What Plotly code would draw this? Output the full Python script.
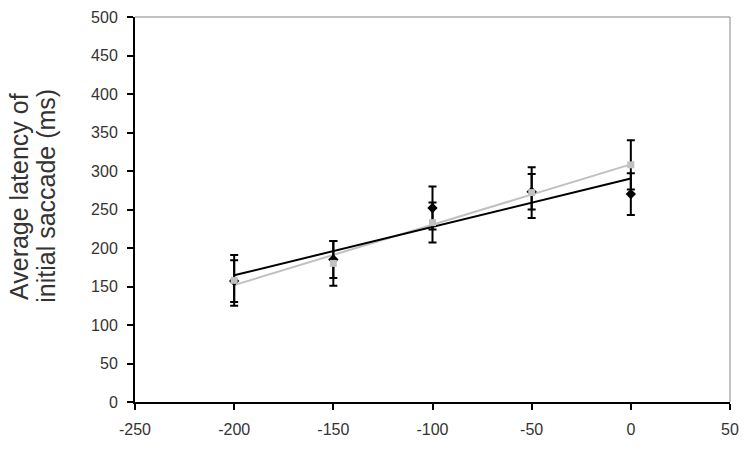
import numpy as np
import plotly.graph_objects as go

x_vals = [-200, -150, -100, -50, 0]
black_mean = [157, 185, 252, 273, 270]
black_err = [27, 24, 28, 23, 27]
gray_mean = [158, 180, 233, 272, 308]
gray_err = [33, 29, 26, 33, 32]

x_ticks = [-250, -200, -150, -100, -50, 0, 50]
x_tick_text = ["-250", "-200", "-150", "-100", "-50", "0", "50"]
y_ticks = [0, 50, 100, 150, 200, 250, 300, 350, 400, 450, 500]
y_tick_text = ["0", "50", "100", "150", "200", "250", "300", "350", "400", "450", "500"]

FONT = "Liberation Sans, Arial, sans-serif"

def trend(xs, ys):
    m, b = np.polyfit(xs, ys, 1)
    xe = [min(xs), max(xs)]
    return xe, [m * v + b for v in xe]

fig = go.Figure()

gx, gy = trend(x_vals, gray_mean)
bx, by = trend(x_vals, black_mean)

fig.add_trace(go.Scatter(x=gx, y=gy, mode="lines",
                         line=dict(color="#c0c0c0", width=2), showlegend=False))
fig.add_trace(go.Scatter(x=bx, y=by, mode="lines",
                         line=dict(color="#000000", width=2), showlegend=False))

fig.add_trace(go.Scatter(
    x=x_vals, y=black_mean, mode="markers",
    marker=dict(symbol="diamond", size=8, color="#000000"),
    error_y=dict(type="data", array=black_err, visible=True,
                 color="#000000", thickness=2, width=4),
    showlegend=False))
fig.add_trace(go.Scatter(
    x=x_vals, y=gray_mean, mode="markers",
    marker=dict(symbol="square", size=7, color="#c0c0c0"),
    error_y=dict(type="data", array=gray_err, visible=True,
                 color="#000000", thickness=2, width=4),
    showlegend=False))

axis_common = dict(
    showgrid=False, zeroline=False, showline=True, linecolor="#000000",
    linewidth=2, ticks="outside", ticklen=6, tickwidth=1.5, tickcolor="#000000",
    tickfont=dict(family=FONT, size=16, color="#333333"),
)

fig.update_xaxes(range=[-250, 50], tickvals=x_ticks, ticktext=x_tick_text,
                 ticklabelstandoff=6, **axis_common)
fig.update_yaxes(range=[0, 500], tickvals=y_ticks, ticktext=y_tick_text,
                 ticklabelstandoff=6, **axis_common)

fig.update_layout(
    width=748, height=472,
    margin=dict(l=135, r=9, t=15, b=70),
    plot_bgcolor="white", paper_bgcolor="white",
    font=dict(family=FONT, color="#000000"),
    shapes=[
        dict(type="line", xref="paper", yref="paper", x0=0, x1=1, y0=1, y1=1,
             line=dict(color="#868686", width=1)),
        dict(type="line", xref="paper", yref="paper", x0=1, x1=1, y0=0, y1=1,
             line=dict(color="#868686", width=1)),
    ],
    annotations=[
        dict(text="Average latency of", xref="paper", yref="paper",
             x=-0.195, y=0.535, xanchor="center", yanchor="middle",
             textangle=-90, showarrow=False,
             font=dict(family=FONT, size=25, color="#333333")),
        dict(text="initial saccade (ms)", xref="paper", yref="paper",
             x=-0.150, y=0.535, xanchor="center", yanchor="middle",
             textangle=-90, showarrow=False,
             font=dict(family=FONT, size=25, color="#333333")),
    ],
)

fig.write_html("out.html")
